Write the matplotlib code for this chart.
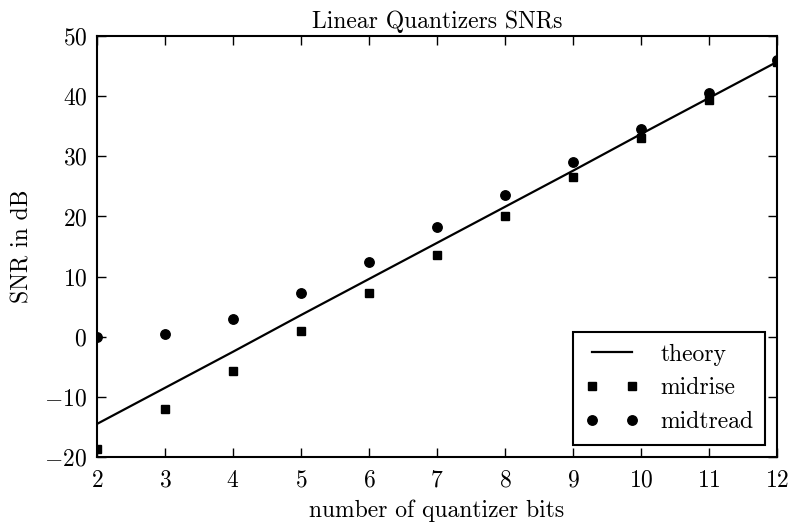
import matplotlib
matplotlib.use('Agg')
import matplotlib.pyplot as plt

plt.rcParams['font.family'] = 'serif'
plt.rcParams['font.serif'] = ['cmr10']
plt.rcParams['mathtext.fontset'] = 'cm'
plt.rcParams['axes.formatter.use_mathtext'] = True
plt.rcParams['font.size'] = 17

bits = [2, 3, 4, 5, 6, 7, 8, 9, 10, 11, 12]
theory = [-14.5, -8.5, -2.5, 3.6, 9.6, 15.6, 21.6, 27.6, 33.7, 39.7, 45.7]
midrise = [-18.7, -12.1, -5.7, 0.9, 7.2, 13.6, 20.1, 26.6, 33.0, 39.4, 45.7]
midtread = [0.0, 0.5, 3.0, 7.3, 12.5, 18.2, 23.5, 29.0, 34.6, 40.5, 46.0]

fig = plt.figure(figsize=(7.91, 5.22), dpi=100)
ax = fig.add_axes([0.1226, 0.1245, 0.8597, 0.8065])

ax.plot(bits, theory, 'k-', lw=1.6, label='theory')
ax.plot(bits, midrise, 'ks', ms=6.3, ls='none', label='midrise')
ax.plot(bits, midtread, 'ko', ms=6.8, ls='none', label='midtread')

ax.set_xlim(2, 12)
ax.set_ylim(-20, 50)
ax.set_xticks(range(2, 13))
ax.set_yticks(range(-20, 51, 10))
ax.tick_params(direction='in', length=6.5, width=1.0, top=True, right=True, pad=7)
ax.tick_params(axis='x', pad=9)
for s in ax.spines.values():
    s.set_linewidth(1.5)

ax.set_title('Linear Quantizers SNRs', fontsize=17, pad=6)
ax.set_xlabel('number of quantizer bits', labelpad=6)
ax.set_ylabel('SNR in dB', labelpad=8)

leg = ax.legend(loc='lower right', numpoints=2, fancybox=False, framealpha=1,
                edgecolor='black', borderaxespad=0.5, handlelength=2.3,
                labelspacing=0.5, borderpad=0.5, handletextpad=0.9)
leg.get_frame().set_linewidth(1.5)

fig.savefig('out.png', dpi=100)
